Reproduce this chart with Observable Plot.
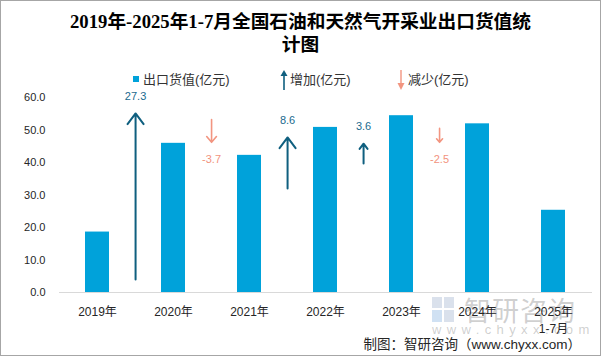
<!DOCTYPE html>
<html>
<head>
<meta charset="utf-8">
<script src="https://cdn.jsdelivr.net/npm/d3@7"></script>
<script src="https://cdn.jsdelivr.net/npm/@observablehq/plot@0.6"></script>
<style>
  html, body { margin: 0; padding: 0; background: #fff; }
  #frame { position: relative; width: 601px; height: 356px; box-sizing: border-box; border: 1px solid #a6a6a6; overflow: hidden; font-family: "Liberation Sans", "Noto Sans CJK SC", sans-serif; color: #262626; }
  #title { position: absolute; left: 0; top: 9px; width: 599px; text-align: center; font-weight: bold; font-size: 18.7px; line-height: 23px; font-family: "Liberation Serif", "Noto Sans CJK SC", serif; color: #000; }
  .lg { position: absolute; font-size: 13px; line-height: 20px; top: 69px; color: #333; white-space: nowrap; }
  #chart { position: absolute; left: 0; top: 86px; }
  #caption { position: absolute; right: 19px; top: 334px; font-size: 13.5px; line-height: 20px; color: #262626; font-family: "Liberation Sans", "Noto Sans CJK SC", sans-serif; white-space: nowrap; }
  .wm { position: absolute; color: rgba(120,120,120,0.36); white-space: nowrap; font-family: "Noto Sans CJK SC", sans-serif; }
</style>
</head>
<body>
<div id="frame">
  <svg style="position:absolute;left:431px;top:296px" width="23" height="26">
    <rect x="0" y="0" width="10" height="11" fill="rgba(150,170,200,0.35)"/>
    <rect x="12" y="0" width="10" height="11" fill="rgba(150,170,200,0.35)"/>
    <rect x="0" y="13" width="10" height="12" fill="rgba(120,170,220,0.35)"/>
    <rect x="12" y="13" width="10" height="12" fill="rgba(150,170,200,0.35)"/>
  </svg>
  <div class="wm" style="left:463px; top:292px; font-size:27px; line-height:34px; letter-spacing:1px;">智研咨询</div>
  <div class="wm" style="left:431px; top:319px; font-size:13px; line-height:20px; letter-spacing:5.4px; font-family:'Liberation Sans',sans-serif;">www.chyxx.com</div>
  <div id="chart"></div>
  <div id="title">2019年-2025年1-7月全国石油和天然气开采业出口货值统<br>计图</div>
  <div id="legend"></div>
  <div id="caption">制图：智研咨询（www.chyxx.com）</div>
</div>
<script>
// ---- data ----
const years = ["2019年", "2020年", "2021年", "2022年", "2023年", "2024年", "2025年\n1-7月"];
const exportValue = [18.6, 45.9, 42.2, 50.8, 54.4, 51.9, 25.3];
const changeValue = [27.3, -3.7, 8.6, 3.6, -2.5];
const changeLabels = ["27.3", "-3.7", "8.6", "3.6", "-2.5"];
// helper series for the arrows (start / tip values, as drawn in the source chart)
const arrowFrom = [4.0, 53.2, 32.0, 39.7, 50.5];
const arrowTo = [55.1, 46.2, 47.7, 45.8, 46.2];
const yTicks = [0, 10, 20, 30, 40, 50, 60];
const legendLabels = ["出口货值(亿元)", "增加(亿元)", "减少(亿元)"];

// ---- colors ----
const barColor = "#00A2DA";
const upColor = "#0F5F7F";
const upText = "#1A6A8E";
const downColor = "#F29580";
const downText = "#F2937D";

// ---- legend ----
const legend = document.getElementById("legend");
legend.innerHTML = `
  <div style="position:absolute;left:132px;top:75px;width:6px;height:6px;background:${barColor}"></div>
  <div class="lg" style="left:142px">${legendLabels[0]}</div>
  <svg style="position:absolute;left:278px;top:68px" width="10" height="22">
    <line x1="5" y1="21" x2="5" y2="5" stroke="${upColor}" stroke-width="1.6"/>
    <path d="M1.5,7 L5,1 L8.5,7 Z" fill="${upColor}"/>
  </svg>
  <div class="lg" style="left:289px">${legendLabels[1]}</div>
  <svg style="position:absolute;left:395px;top:68px" width="10" height="22">
    <line x1="5" y1="1" x2="5" y2="16" stroke="${downColor}" stroke-width="1.4"/>
    <path d="M1.5,14 L5,21 L8.5,14 Z" fill="${downColor}"/>
  </svg>
  <div class="lg" style="left:407px">${legendLabels[2]}</div>
`;

// ---- chart ----
const bars = years.map((year, i) => ({year, value: exportValue[i]}));
const changes = changeValue.map((change, i) => ({
  year: years[i], from: arrowFrom[i], to: arrowTo[i], change, label: changeLabels[i]
}));
const ups = changes.filter(d => d.change > 0);
const downs = changes.filter(d => d.change < 0);

const W = 599, H = 245, ml = 58, mr = 8;
const half = (W - ml - mr) / years.length / 2;

const chart = Plot.plot({
  width: W,
  height: H,
  marginTop: 10,
  marginBottom: 40,
  marginLeft: ml,
  marginRight: mr,
  style: {background: "transparent", fontFamily: "'Liberation Sans', 'Noto Sans CJK SC', sans-serif", fontSize: "11px", color: "#262626", overflow: "visible"},
  x: {domain: years, paddingInner: 0.68, paddingOuter: 0.34, label: null},
  y: {domain: [0, 60], label: null},
  marks: [
    Plot.barY(bars, {x: "year", y: "value", fill: barColor}),
    Plot.ruleY([0], {stroke: "#d9d9d9", strokeWidth: 1}),
    Plot.axisY({ticks: yTicks, tickSize: 0, tickPadding: 14, tickFormat: d3.format(".1f"), label: null, fontSize: 11}),
    Plot.axisX({tickSize: 0, tickPadding: 12, label: null, fontSize: 12, lineHeight: 1.4}),
    Plot.arrow(ups, {x1: "year", x2: "year", y1: "from", y2: "to", dx: half, stroke: upColor, strokeWidth: 2, headLength: 10, headAngle: 74}),
    Plot.arrow(downs, {x1: "year", x2: "year", y1: "from", y2: "to", dx: half, stroke: downColor, strokeWidth: 1.6, headLength: 8, headAngle: 80}),
    Plot.text(ups, {x: "year", y: "to", text: "label", dx: half, dy: -17, fill: upText, fontSize: 11}),
    Plot.text(downs, {x: "year", y: "to", text: "label", dx: half, dy: 17, fill: downText, fontSize: 11})
  ]
});
document.getElementById("chart").appendChild(chart);
</script>
</body>
</html>
